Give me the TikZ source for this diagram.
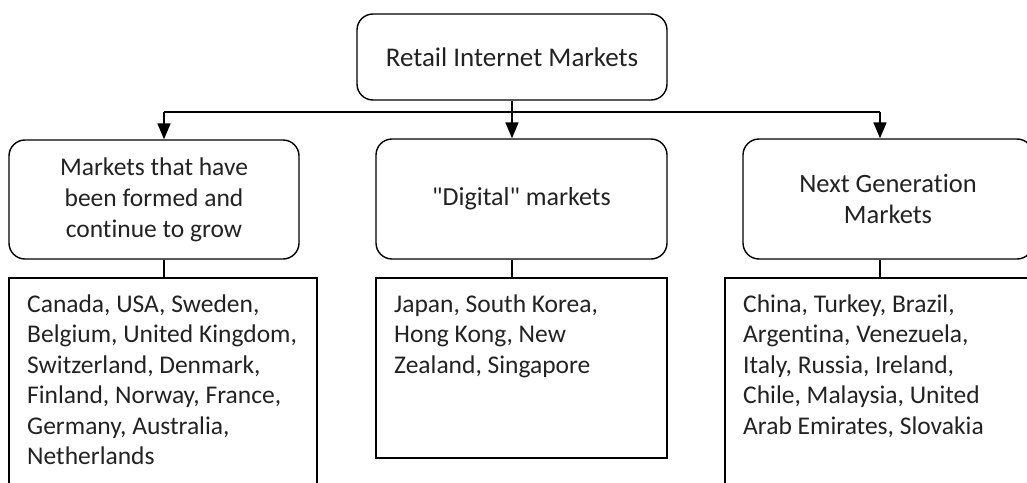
\documentclass[tikz,border=0pt]{standalone}
\usepackage{fontspec}
\setmainfont{Carlito}[Ligatures={NoCommon,TeXOff}]
\usetikzlibrary{arrows.meta,calc}
\definecolor{txt}{HTML}{222222}
\begin{document}
\begin{tikzpicture}[x=1pt,y=-1pt,
  rbox/.style={draw,line width=1.4pt,rounded corners=16pt,inner sep=0pt,align=center,text=txt,
    font=\fontsize{25.5}{31}\selectfont},
  sbox/.style={draw,line width=1.4pt,inner sep=0pt},
  lst/.style={anchor=base west,inner sep=0pt,text=txt,font=\fontsize{25.5}{30.5}\selectfont},
  conn/.style={line width=1.6pt},
  arr/.style={line width=1.6pt,-{Triangle[length=16pt,width=13pt]}}]
\useasboundingbox (0,0) rectangle (1027,482);
\clip (0,0) rectangle (1027,482);
% top
\node[rbox,minimum width=310pt,minimum height=86pt,font=\fontsize{27}{31}\selectfont] (top) at (512,57) {Retail Internet Markets};
% round boxes
\node[rbox,minimum width=290pt,minimum height=119pt] (lr) at (154,199.5) {Markets that have\\been formed and\\continue to grow};
\node[rbox,minimum width=291pt,minimum height=120pt,font=\fontsize{26}{31}\selectfont] (mr) at (521.5,199) {"Digital" markets};
\node[rbox,minimum width=290pt,minimum height=120pt,font=\fontsize{26.5}{31}\selectfont] (rr) at (888,199) {Next Generation\\Markets};
% rectangles
\node[sbox,minimum width=308pt,minimum height=222pt] (ls) at (163,389) {};
\node[sbox,minimum width=291pt,minimum height=180pt] (ms) at (521.5,368) {};
\node[sbox,minimum width=315pt,minimum height=222pt] (rs) at (882.5,389) {};
% lists
\node[lst] (lt) at (27,312) {\parbox[t]{300pt}{\raggedright Canada, USA, Sweden,\\Belgium, United Kingdom,\\Switzerland, Denmark,\\Finland, Norway, France,\\Germany, Australia,\\Netherlands}};
\node[lst] (mt) at (394,312) {\parbox[t]{270pt}{\raggedright Japan, South Korea,\\Hong Kong, New\\Zealand, Singapore}};
\node[lst] (rt) at (743,312) {\parbox[t]{280pt}{\raggedright China, Turkey, Brazil,\\Argentina, Venezuela,\\Italy, Russia, Ireland,\\Chile, Malaysia, United\\Arab Emirates, Slovakia}};
% connectors
\coordinate (bl) at (164,112);
\coordinate (bm) at (512,112);
\coordinate (br) at (880,112);
\draw[conn] (bl) -- (br);
\draw[arr] (top.south) -- (top.south |- mr.north);
\draw[arr] (bl) -- (bl |- lr.north);
\draw[arr] (br) -- (br |- rr.north);
\draw[line width=1.2pt] (bl |- lr.south) -- (bl |- ls.north);
\draw[line width=1.2pt] (bm |- mr.south) -- (bm |- ms.north);
\draw[line width=1.2pt] (br |- rr.south) -- (br |- rs.north);
\end{tikzpicture}
\end{document}
